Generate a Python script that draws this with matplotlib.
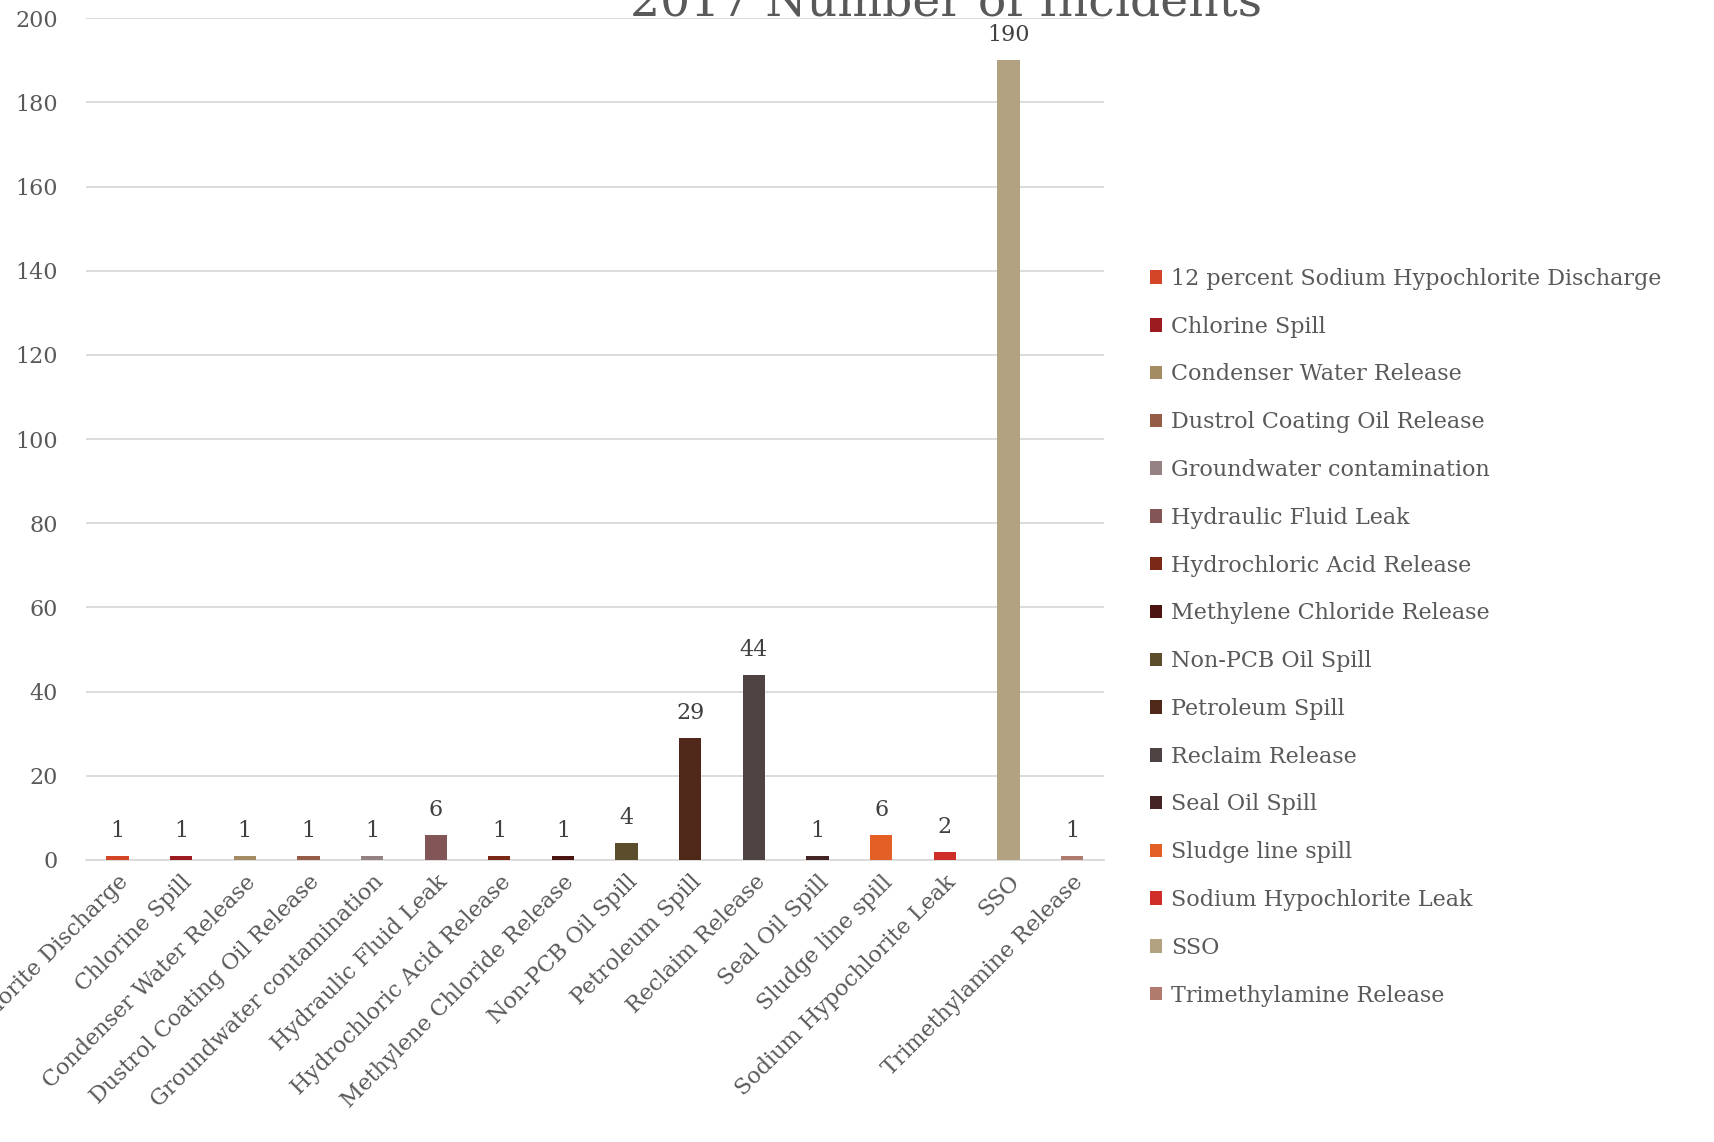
import matplotlib
matplotlib.use("Agg")
import matplotlib.pyplot as plt
from matplotlib.patches import Patch

categories = ["12 percent Sodium Hypochlorite Discharge", "Chlorine Spill", "Condenser Water Release",
              "Dustrol Coating Oil Release", "Groundwater contamination", "Hydraulic Fluid Leak",
              "Hydrochloric Acid Release", "Methylene Chloride Release", "Non-PCB Oil Spill",
              "Petroleum Spill", "Reclaim Release", "Seal Oil Spill", "Sludge line spill",
              "Sodium Hypochlorite Leak", "SSO", "Trimethylamine Release"]
counts = [1, 1, 1, 1, 1, 6, 1, 1, 4, 29, 44, 1, 6, 2, 190, 1]
colors = ["#D44427", "#9B1B20", "#A38B63", "#955D48", "#948283", "#825557", "#7A2916", "#4C1410",
          "#5C4D2C", "#4F2819", "#4F4242", "#452425", "#E35F26", "#CF2F28", "#B3A282", "#B07B6C"]

plt.rcParams['font.family'] = ['DejaVu Serif']
txt = '#595959'

fig = plt.figure(figsize=(17.14, 11.42), dpi=100)
ax = fig.add_axes([0.050, 0.247, 0.594, 0.737])

x = list(range(len(categories)))
ax.bar(x, counts, width=0.35, color=colors, zorder=3)
for xi, v in zip(x, counts):
    ax.annotate(str(v), (xi, v), xytext=(0, 10), textcoords='offset points',
                ha='center', va='bottom', fontsize=16, color='#404040')

ax.set_ylim(0, 200)
ax.set_xlim(-0.5, len(categories) - 0.5)
ax.set_yticks(range(0, 201, 20))
ax.yaxis.grid(True, color='#D9D9D9', linewidth=1.3, zorder=0)
ax.set_xticks(x)
ax.set_xticklabels(categories, rotation=45, ha='right', rotation_mode='anchor', fontsize=16, color=txt)
ax.tick_params(axis='y', labelsize=16, colors=txt, length=0, pad=20)
ax.tick_params(axis='x', length=0, pad=8)
for s in ['left', 'right', 'top']:
    ax.spines[s].set_visible(False)
ax.spines['bottom'].set_color('#D9D9D9')
ax.spines['bottom'].set_linewidth(1.3)

handles = [Patch(facecolor=c, label=n) for c, n in zip(colors, categories)]
fig.legend(handles=handles, loc='center left', bbox_to_anchor=(0.659, 0.442), frameon=False,
           fontsize=16, labelcolor=txt, handlelength=0.55, handleheight=0.55,
           handletextpad=0.4, labelspacing=1.16)

fig.text(0.552, 0.986, "2017 Number of Incidents", ha='center', va='baseline', fontsize=34, color=txt)

fig.savefig("out.png", dpi=100)
